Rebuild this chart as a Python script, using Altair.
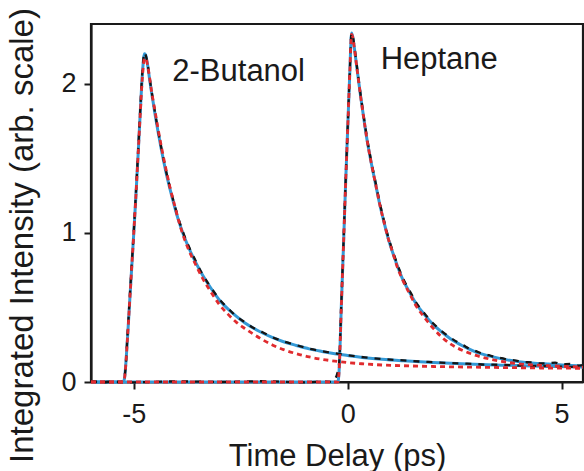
import altair as alt
import pandas as pd

# ---- data (time in ps, intensity arb.) ----
butanol_data = [(-6.0, 0.005), (-5.7, -0.003), (-5.5, 0.004), (-5.3, 0.0), (-5.24, 0.02),
                (-5.2, 0.07), (-5.15, 0.3), (-5.1, 0.54), (-5.05, 0.78), (-5.0, 1.01),
                (-4.95, 1.27), (-4.9, 1.54), (-4.85, 1.82), (-4.8, 2.08), (-4.77, 2.18),
                (-4.75, 2.21), (-4.72, 2.19), (-4.68, 2.14), (-4.64, 2.06), (-4.6, 1.98),
                (-4.55, 1.89), (-4.5, 1.8), (-4.44, 1.7), (-4.35, 1.56), (-4.25, 1.42),
                (-4.15, 1.3), (-4.05, 1.19), (-3.95, 1.09), (-3.83, 0.99), (-3.7, 0.9),
                (-3.55, 0.81), (-3.4, 0.725), (-3.2, 0.635), (-3.0, 0.555), (-2.8, 0.495),
                (-2.6, 0.44), (-2.4, 0.4), (-2.2, 0.362), (-2.0, 0.335), (-1.75, 0.299),
                (-1.5, 0.272), (-1.2, 0.247), (-0.9, 0.224), (-0.6, 0.207), (-0.3, 0.193),
                (0.0, 0.18), (0.4, 0.165), (0.8, 0.154), (1.3, 0.145), (1.7, 0.137),
                (2.0, 0.133), (2.4, 0.127), (2.8, 0.123), (3.2, 0.117), (3.6, 0.115),
                (4.0, 0.11), (4.5, 0.108), (5.0, 0.103), (5.5, 0.101)]

butanol_fit_blue = [(-6.0, 0.0), (-5.25, 0.0), (-5.22, 0.02), (-5.15, 0.28), (-5.1, 0.52),
                    (-5.05, 0.76), (-5.0, 1.0), (-4.95, 1.25), (-4.9, 1.52), (-4.85, 1.8),
                    (-4.8, 2.06), (-4.77, 2.17), (-4.75, 2.2), (-4.72, 2.19), (-4.68, 2.13),
                    (-4.64, 2.05), (-4.6, 1.97), (-4.55, 1.88), (-4.5, 1.79), (-4.44, 1.69),
                    (-4.35, 1.55), (-4.25, 1.41), (-4.15, 1.29), (-4.05, 1.18), (-3.95, 1.08),
                    (-3.83, 0.98), (-3.7, 0.89), (-3.55, 0.8), (-3.4, 0.72), (-3.2, 0.63),
                    (-3.0, 0.55), (-2.8, 0.49), (-2.6, 0.44), (-2.4, 0.395), (-2.2, 0.36),
                    (-2.0, 0.33), (-1.75, 0.297), (-1.5, 0.27), (-1.2, 0.245), (-0.9, 0.222),
                    (-0.6, 0.205), (-0.3, 0.19), (0.0, 0.178), (0.4, 0.163), (0.8, 0.152),
                    (1.3, 0.142), (2.0, 0.131), (2.8, 0.121), (3.6, 0.113), (4.5, 0.106),
                    (5.5, 0.1)]

butanol_fit_red = [(-6.0, 0.0), (-5.25, 0.0), (-5.22, 0.02), (-5.15, 0.28), (-5.1, 0.52),
                   (-5.05, 0.76), (-5.0, 1.0), (-4.95, 1.25), (-4.9, 1.52), (-4.85, 1.79),
                   (-4.8, 2.04), (-4.77, 2.14), (-4.75, 2.17), (-4.72, 2.17), (-4.68, 2.13),
                   (-4.64, 2.06), (-4.6, 1.98), (-4.55, 1.89), (-4.5, 1.81), (-4.44, 1.71),
                   (-4.35, 1.57), (-4.25, 1.43), (-4.15, 1.3), (-4.05, 1.19), (-3.95, 1.08),
                   (-3.83, 0.97), (-3.7, 0.875), (-3.55, 0.785), (-3.4, 0.7), (-3.2, 0.605),
                   (-3.0, 0.52), (-2.8, 0.455), (-2.6, 0.4), (-2.4, 0.358), (-2.2, 0.32),
                   (-2.0, 0.285), (-1.75, 0.247), (-1.5, 0.217), (-1.2, 0.19), (-0.9, 0.168),
                   (-0.6, 0.152), (-0.3, 0.14), (0.0, 0.13), (0.4, 0.121), (0.8, 0.114),
                   (1.3, 0.109), (2.0, 0.104), (2.8, 0.1), (3.6, 0.097), (4.5, 0.094),
                   (5.5, 0.092)]

heptane_data = [(-6.0, 0.003), (-5.0, -0.002), (-4.0, 0.004), (-3.0, 0.0), (-2.0, 0.005),
                (-1.0, -0.002), (-0.5, 0.003), (-0.36, 0.0), (-0.3, 0.02), (-0.25, 0.05),
                (-0.2, 0.13), (-0.15, 0.52), (-0.1, 0.92), (-0.05, 1.33), (0.0, 1.71),
                (0.05, 2.09), (0.09, 2.34), (0.12, 2.32), (0.16, 2.24), (0.2, 2.15),
                (0.25, 2.04), (0.3, 1.93), (0.38, 1.77), (0.46, 1.62), (0.55, 1.48),
                (0.65, 1.34), (0.75, 1.2), (0.85, 1.08), (0.95, 0.97), (1.05, 0.88),
                (1.16, 0.79), (1.3, 0.69), (1.45, 0.61), (1.6, 0.533), (1.8, 0.458),
                (2.0, 0.392), (2.2, 0.34), (2.4, 0.297), (2.55, 0.27), (2.7, 0.247),
                (2.85, 0.222), (3.0, 0.207), (3.15, 0.19), (3.3, 0.18), (3.45, 0.166),
                (3.6, 0.16), (3.75, 0.148), (3.9, 0.145), (4.1, 0.133), (4.3, 0.132),
                (4.5, 0.124), (4.7, 0.126), (4.85, 0.13), (5.0, 0.117), (5.2, 0.121),
                (5.35, 0.109), (5.5, 0.113)]

heptane_fit_blue = [(-6.0, 0.0), (-0.23, 0.0), (-0.2, 0.08), (-0.15, 0.5), (-0.1, 0.9),
                    (-0.05, 1.32), (0.0, 1.7), (0.05, 2.08), (0.09, 2.34), (0.12, 2.31),
                    (0.16, 2.23), (0.2, 2.14), (0.25, 2.03), (0.3, 1.92), (0.38, 1.76),
                    (0.46, 1.61), (0.55, 1.47), (0.65, 1.33), (0.75, 1.19), (0.85, 1.07),
                    (0.95, 0.96), (1.05, 0.87), (1.16, 0.78), (1.3, 0.68), (1.45, 0.6),
                    (1.6, 0.525), (1.8, 0.45), (2.0, 0.385), (2.2, 0.335), (2.4, 0.29),
                    (2.7, 0.24), (3.0, 0.2), (3.3, 0.175), (3.6, 0.155), (3.9, 0.14),
                    (4.3, 0.128), (4.7, 0.12), (5.1, 0.113), (5.5, 0.108)]

heptane_fit_red = [(-6.0, 0.0), (-0.23, 0.0), (-0.2, 0.08), (-0.15, 0.5), (-0.1, 0.9),
                   (-0.05, 1.32), (0.0, 1.7), (0.05, 2.08), (0.09, 2.33), (0.12, 2.31),
                   (0.16, 2.23), (0.2, 2.14), (0.25, 2.03), (0.3, 1.92), (0.38, 1.76),
                   (0.46, 1.61), (0.55, 1.47), (0.65, 1.33), (0.75, 1.19), (0.85, 1.07),
                   (0.95, 0.96), (1.05, 0.87), (1.16, 0.77), (1.3, 0.675), (1.45, 0.59),
                   (1.6, 0.51), (1.8, 0.43), (2.0, 0.36), (2.2, 0.3), (2.4, 0.255),
                   (2.7, 0.21), (3.0, 0.178), (3.3, 0.155), (3.6, 0.138), (3.9, 0.125),
                   (4.3, 0.115), (4.7, 0.109), (5.1, 0.104), (5.5, 0.1)]

label_text = ["2-Butanol", "Heptane"]
label_t = [-4.1, 0.77]
label_v = [2.02, 2.10]

x_ticks = [-5, 0, 5]
y_ticks = [0, 1, 2]

# ---- build tables ----
rows = []
for name, kind, pts in [("but", "data", butanol_data), ("but", "blue", butanol_fit_blue),
                        ("but", "red", butanol_fit_red), ("hep", "data", heptane_data),
                        ("hep", "blue", heptane_fit_blue), ("hep", "red", heptane_fit_red)]:
    for i, (t, v) in enumerate(pts):
        rows.append({"sample": name, "kind": kind, "t": t, "v": v, "order": i})
df = pd.DataFrame(rows)
labels = pd.DataFrame({"text": label_text, "t": label_t, "v": label_v})

FONT = "Liberation Sans"
INK = "#1a1a1a"

xenc = alt.X("t:Q", scale=alt.Scale(domain=[-6, 5.5], nice=False, zero=False),
             axis=alt.Axis(values=x_ticks, title="Time Delay (ps)", labelExpr="'' + datum.value",
                           labelPadding=12, titleY=83, titleBaseline="alphabetic",
                           titleFontSize=31))
yenc = alt.Y("v:Q", scale=alt.Scale(domain=[0, 2.4], nice=False),
             axis=alt.Axis(values=y_ticks, title="Integrated Intensity (arb. scale)",
                           labelExpr="'' + datum.value",
                           labelPadding=8, titleX=-69, titleY=211, titleAngle=-90,
                           titleAlign="center", titleBaseline="middle", titleFontSize=33))

base = alt.Chart(df)

blue = base.transform_filter(alt.datum.kind == "blue").mark_line(
    color="#3399d6", strokeWidth=3.0, interpolate="monotone").encode(
    x=xenc, y=yenc, detail="sample:N", order="order:Q")

black = base.transform_filter(alt.datum.kind == "data").mark_line(
    color="#151515", strokeWidth=2.3, strokeDash=[6, 7], interpolate="monotone").encode(
    x="t:Q", y="v:Q", detail="sample:N", order="order:Q")

red = base.transform_filter(alt.datum.kind == "red").mark_line(
    color="#e02b2e", strokeWidth=2.8, strokeDash=[5, 4], interpolate="monotone").encode(
    x="t:Q", y="v:Q", detail="sample:N", order="order:Q")

text = alt.Chart(labels).mark_text(
    align="left", baseline="alphabetic", fontSize=31, font=FONT, color=INK).encode(
    x="t:Q", y="v:Q", text="text:N")

chart = alt.layer(blue, black, red, text).properties(
    width=492, height=358,
    autosize=alt.AutoSizeParams(type="none"),
    padding={"left": 91, "top": 24, "right": 1, "bottom": 89},
).configure(background="white").configure_view(
    stroke=INK, strokeWidth=2.2
).configure_axis(
    grid=False, domainColor=INK, domainWidth=2.2, tickColor=INK, tickWidth=2,
    tickSize=7, labelFont=FONT, titleFont=FONT, labelFontSize=27,
    labelColor=INK, titleColor=INK, titleFontWeight="normal"
)

chart.save("out.html", embed_options={"renderer": "svg", "actions": False})
